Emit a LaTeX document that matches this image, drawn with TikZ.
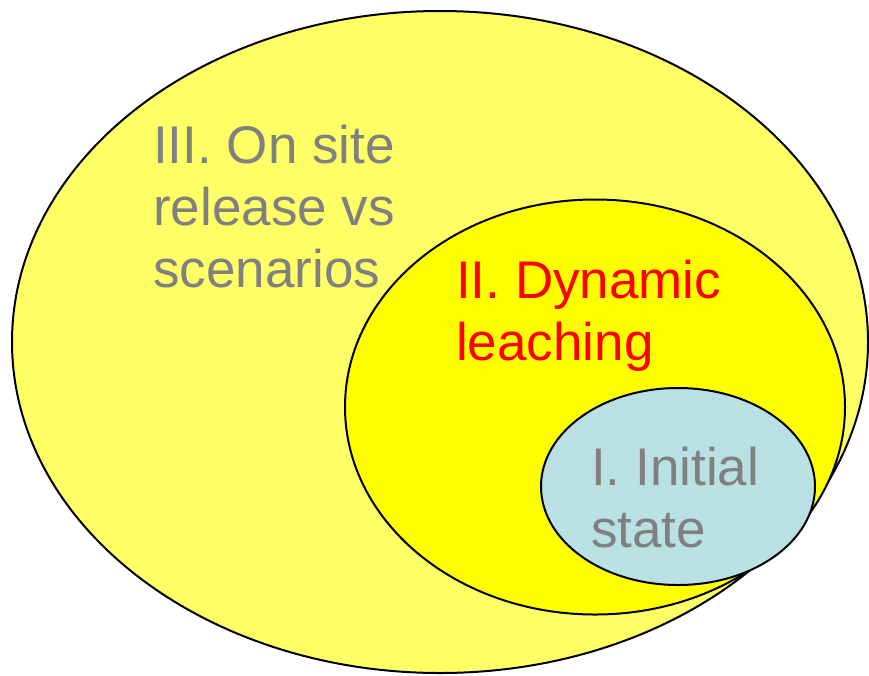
\documentclass[tikz,border=0pt]{standalone}
\usepackage{fontspec}
\setmainfont{Liberation Sans}
\usetikzlibrary{shapes.geometric}
\definecolor{paleyellow}{HTML}{FFFF66}
\definecolor{brightyellow}{HTML}{FFFF00}
\definecolor{paleblue}{HTML}{B9E0E3}
\definecolor{labelgray}{HTML}{808080}
\tikzset{
  ring/.style={draw=black, line width=2pt},
  % multi-line labels are placed by the baseline of their last line
  label text/.style={anchor=base west, inner sep=0pt, align=left,
    font=\fontsize{53}{62}\selectfont},
}
\begin{document}
\begin{tikzpicture}[x=1pt, y=-1pt]
  \useasboundingbox (0,0) rectangle (869,675);
  % nested scopes: outer, middle, inner
  \path[ring, fill=paleyellow] (440,342) ellipse [x radius=428, y radius=331];
  \path[ring, fill=brightyellow] (595,407) ellipse [x radius=250, y radius=207.5];
  \path[ring, fill=paleblue] (678,486.5) ellipse [x radius=137, y radius=98.5];
  % labels
  \node[label text, text=labelgray] (lblIII) at (153,287) {III. On site\\release vs\\scenarios};
  \node[label text, text=red] (lblII) at (456,360) {II. Dynamic\\leaching};
  \node[label text, text=labelgray] (lblI) at (591,547) {I. Initial\\state};
\end{tikzpicture}
\end{document}
